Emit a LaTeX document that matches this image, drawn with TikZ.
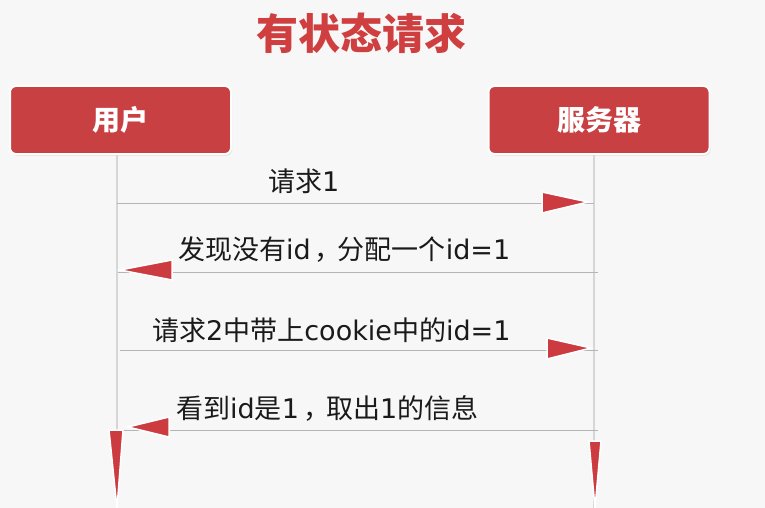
\documentclass[tikz,border=0pt]{standalone}
\usepackage{fontspec}
\setmainfont{DejaVu Sans}
\newfontfamily\cjk{Noto Sans CJK SC}
\usetikzlibrary{shadows}
\definecolor{bg}{HTML}{F7F7F7}
\definecolor{boxred}{HTML}{C94043}
\definecolor{titlered}{HTML}{CF3F40}
\definecolor{headred}{HTML}{CC3B40}
\definecolor{lifegray}{HTML}{D6D6D6}
\definecolor{msggray}{HTML}{B5B5B5}
\definecolor{txt}{HTML}{1A1A1A}
\newcommand{\fwcomma}{\makebox[27pt][c]{\hspace*{8pt}\cjk ，}}
\begin{document}
\begin{tikzpicture}[x=1pt,y=-1pt,
  actor/.style={rounded corners=6pt, fill=boxred, draw=white, line width=2pt,
    minimum width=221pt, minimum height=68pt, text=white, inner sep=0pt,
    font=\cjk\fontsize{28}{28}\selectfont\bfseries,
    drop shadow={shadow xshift=1pt, shadow yshift=-1.5pt, opacity=0.25}},
  titlestyle/.style={text=titlered, inner sep=0pt, font=\cjk\fontsize{42}{42}\selectfont\bfseries},
  lifeline/.style={draw=lifegray, line width=1.6pt},
  msg/.style={draw=msggray, line width=1pt},
  head/.style={fill=headred, draw=white, line width=1.5pt, line join=miter},
  lbl/.style={anchor=west, inner sep=0pt, text=txt, font=\fontsize{27}{27}\selectfont}
]
\fill[bg] (0,0) rectangle (765,508);
\useasboundingbox (0,0) rectangle (765,508);

\node[titlestyle] (title) at (361,33) {有状态请求};
\node[actor] (user) at (120.5,120) {用户};
\node[actor] (server) at (599,120) {服务器};

% lifeline coordinates
\coordinate (uEnd) at (117,508);
\coordinate (sEnd) at (594,508);
\draw[lifeline] (user.south -| uEnd) -- (uEnd);
\draw[lifeline] (server.south -| sEnd) -- (sEnd);

\coordinate (u1) at (117,203); \coordinate (s1) at (594,203);
\coordinate (u2) at (118,272); \coordinate (s2) at (598,272);
\coordinate (u3) at (120,350); \coordinate (s3) at (598,350);
\coordinate (u4) at (118,430); \coordinate (s4) at (598,430);

\draw[msg] (u1) -- (s1);
\draw[msg] (s2) -- (u2);
\draw[msg] (u3) -- (s3);
\draw[msg] (s4) -- (u4);

\filldraw[head] (542,192) -- (588,202) -- (542,213) -- cycle;
\filldraw[head] (172,260) -- (120,270) -- (172,280) -- cycle;
\filldraw[head] (547,338) -- (591,348) -- (547,359) -- cycle;
\filldraw[head] (169,417) -- (128,427) -- (169,437) -- cycle;

\filldraw[head] (109,430) -- (123,430) -- (117,508) -- cycle;
\filldraw[head] (589,441) -- (601,441) -- (595,508) -- cycle;

\node[lbl] (m1) at (268,181) {{\cjk 请求}1};
\node[lbl] (m2) at (178,250) {{\cjk 发现没有}id\fwcomma{\cjk 分配一个}id=1};
\node[lbl] (m3) at (152,330) {{\cjk 请求}2{\cjk 中带上}cookie{\cjk 中的}id=1};
\node[lbl] (m4) at (176,408) {{\cjk 看到}id{\cjk 是}1\fwcomma{\cjk 取出}1{\cjk 的信息}};
\end{tikzpicture}
\end{document}
